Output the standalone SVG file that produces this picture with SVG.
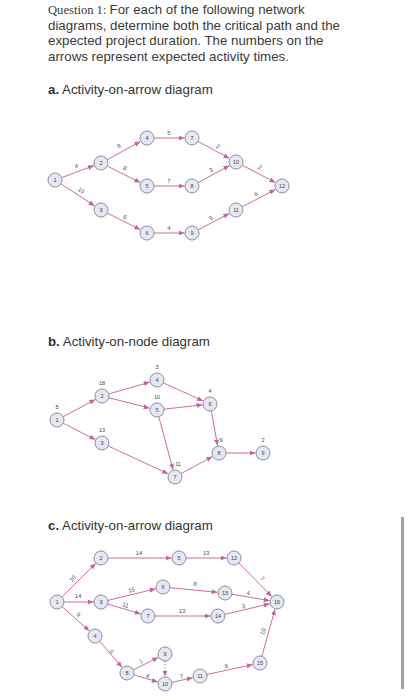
<svg xmlns="http://www.w3.org/2000/svg" width="408" height="700" viewBox="0 0 408 700">
<defs>
<marker id="ah" markerUnits="userSpaceOnUse" markerWidth="6" markerHeight="5" refX="6" refY="2.5" orient="auto"><path d="M0,0 L6,2.5 L0,5 z" fill="#cc5f95"/></marker>
<style>
.t{font-family:"Liberation Sans",Arial,sans-serif;font-size:13.3px;fill:#3a3a3a}
.q{font-family:"Liberation Serif","Times New Roman",serif;font-size:12.6px;fill:#3a3a3a}
.h{font-family:"Liberation Sans",Arial,sans-serif;font-size:13.3px;fill:#333}
.n circle{fill:#e5e7f3;stroke:#8b8fa6;stroke-width:1}
.n text{font-family:"Liberation Sans",Arial,sans-serif;font-size:5.5px;fill:#444;text-anchor:middle}
.e line{stroke:#cc6f9c;stroke-width:1;marker-end:url(#ah)}
.e line.d{stroke-dasharray:1.5,1.5}
.l{font-family:"Liberation Sans",Arial,sans-serif;font-size:6px;fill:#555;text-anchor:middle}
.w{font-family:"Liberation Sans",Arial,sans-serif;font-size:6px;fill:#555;text-anchor:middle}
</style>
</defs>
<rect width="408" height="700" fill="#fff"/>
<g id="header">
<text x="48" y="14"><tspan class="q">Question 1: </tspan><tspan class="t">For each of the following network</tspan></text>
<text class="t" x="48" y="29.5">diagrams, determine both the critical path and the</text>
<text class="t" x="48" y="45">expected project duration. The numbers on the</text>
<text class="t" x="48" y="60.5">arrows represent expected activity times.</text>
<text class="h" x="48" y="94"><tspan font-weight="bold">a.</tspan> Activity-on-arrow diagram</text>
<text class="h" x="48" y="346"><tspan font-weight="bold">b.</tspan> Activity-on-node diagram</text>
<text class="h" x="48" y="530"><tspan font-weight="bold">c.</tspan> Activity-on-arrow diagram</text>
</g>
<rect x="401" y="517" width="3" height="172" fill="#a0a0a0"/>

<!-- Diagram a connectors -->
<g id="edges-a" class="e">
<line x1="61.6" y1="177.6" x2="94" y2="165.6"/>
<line x1="60.9" y1="183.8" x2="94.7" y2="205.9"/>
<line x1="107.1" y1="159.7" x2="140.4" y2="141.6"/>
<line x1="107.3" y1="166.1" x2="140.3" y2="182.6"/>
<line x1="107.3" y1="213.1" x2="140.3" y2="229.6"/>
<line x1="154" y1="138" x2="184.5" y2="138"/>
<line x1="154" y1="186" x2="184.5" y2="186"/>
<line x1="154" y1="233" x2="184.5" y2="233"/>
<line x1="198.1" y1="141.4" x2="229.4" y2="158.4"/>
<line x1="198.1" y1="182.6" x2="229.4" y2="165.6"/>
<line x1="198.2" y1="229.8" x2="229.3" y2="213.5"/>
<line x1="242.2" y1="165.2" x2="275.4" y2="182.5"/>
<line x1="242.2" y1="206.8" x2="275.4" y2="189.5"/>
</g>
<g id="labels-a">
<text class="l" transform="translate(77,168) rotate(-20)">4</text>
<text class="l" transform="translate(80,192) rotate(33)">10</text>
<text class="l" transform="translate(120,148) rotate(-28)">9</text>
<text class="l" transform="translate(124,170) rotate(27)">8</text>
<text class="l" transform="translate(124,219) rotate(27)">6</text>
<text class="l" x="169" y="135">5</text>
<text class="l" x="169" y="183">7</text>
<text class="l" x="169" y="230">4</text>
<text class="l" transform="translate(217,148) rotate(29)">2</text>
<text class="l" transform="translate(212,172) rotate(-29)">3</text>
<text class="l" transform="translate(212,220) rotate(-28)">5</text>
<text class="l" transform="translate(259,169) rotate(28)">2</text>
<text class="l" transform="translate(257,196) rotate(-28)">6</text>
</g>
<g id="a1" class="n"><circle cx="55" cy="180" r="7"/><text x="55" y="182">1</text></g>
<g id="a2" class="n"><circle cx="101" cy="163" r="7"/><text x="101" y="165">2</text></g>
<g id="a3" class="n"><circle cx="101" cy="210" r="7"/><text x="101" y="212">3</text></g>
<g id="a4" class="n"><circle cx="147" cy="138" r="7"/><text x="147" y="140">4</text></g>
<g id="a5" class="n"><circle cx="147" cy="186" r="7"/><text x="147" y="188">5</text></g>
<g id="a6" class="n"><circle cx="147" cy="233" r="7"/><text x="147" y="235">6</text></g>
<g id="a7" class="n"><circle cx="192" cy="138" r="7"/><text x="192" y="140">7</text></g>
<g id="a8" class="n"><circle cx="192" cy="186" r="7"/><text x="192" y="188">8</text></g>
<g id="a9" class="n"><circle cx="192" cy="233" r="7"/><text x="192" y="235">9</text></g>
<g id="a10" class="n"><circle cx="236" cy="162" r="7"/><text x="236" y="164">10</text></g>
<g id="a11" class="n"><circle cx="236" cy="210" r="7"/><text x="236" y="212">11</text></g>
<g id="a12" class="n"><circle cx="282" cy="186" r="7"/><text x="282" y="188">12</text></g>

<!-- Diagram b -->
<g id="edges-b" class="e">
<line x1="63.2" y1="416.7" x2="95.4" y2="399.5"/>
<line x1="63.2" y1="423.2" x2="95.3" y2="439.6"/>
<line x1="108.7" y1="394" x2="149.8" y2="382.1"/>
<line x1="108.8" y1="397.7" x2="149.7" y2="408.2"/>
<line x1="163.4" y1="382.9" x2="203.2" y2="400.9"/>
<line x1="164" y1="409.2" x2="202.5" y2="404.8"/>
<line x1="158.8" y1="416.8" x2="173.1" y2="469.8"/>
<line x1="108.3" y1="446" x2="168.2" y2="473.8"/>
<line x1="211.3" y1="410.9" x2="217.6" y2="445.6"/>
<line x1="181.1" y1="473.6" x2="212.4" y2="456.6"/>
<line x1="226" y1="453" x2="255.5" y2="453"/>
</g>
<g id="b1" class="n"><text class="w" x="57" y="409">5</text><circle cx="57" cy="420" r="7"/><text x="57" y="422">1</text></g>
<g id="b2" class="n"><text class="w" x="102" y="385">18</text><circle cx="102" cy="396" r="7"/><text x="102" y="398">2</text></g>
<g id="b3" class="n"><text class="w" x="102" y="432">13</text><circle cx="102" cy="443" r="7"/><text x="102" y="445">3</text></g>
<g id="b4" class="n"><text class="w" x="157" y="369">3</text><circle cx="157" cy="380" r="7"/><text x="157" y="382">4</text></g>
<g id="b5" class="n"><text class="w" x="157" y="399">10</text><circle cx="157" cy="410" r="7"/><text x="157" y="412">5</text></g>
<g id="b6" class="n"><text class="w" x="210" y="393">4</text><circle cx="210" cy="404" r="7"/><text x="210" y="406">6</text></g>
<g id="b7" class="n"><text class="w" x="178" y="466">11</text><circle cx="175" cy="477" r="7"/><text x="175" y="479">7</text></g>
<g id="b8" class="n"><text class="w" x="221" y="442">9</text><circle cx="219" cy="453" r="7"/><text x="219" y="455">8</text></g>
<g id="b9" class="n"><text class="w" x="263" y="442">2</text><circle cx="263" cy="453" r="7"/><text x="263" y="455">9</text></g>

<!-- Diagram c -->
<g id="edges-c" class="e">
<line x1="62" y1="597" x2="95.7" y2="563.3"/>
<line x1="64" y1="602" x2="93.5" y2="602"/>
<line x1="62.2" y1="606.7" x2="89.4" y2="631"/>
<line x1="108" y1="558" x2="171.5" y2="558"/>
<line x1="107.8" y1="600.4" x2="155.7" y2="588.8"/>
<line x1="107.7" y1="604" x2="140.8" y2="613.9"/>
<line x1="99.6" y1="641.3" x2="122.1" y2="667.3"/>
<line x1="186" y1="558" x2="226.5" y2="558"/>
<line x1="170" y1="587.7" x2="217.5" y2="592.3"/>
<line x1="155" y1="616" x2="210.5" y2="616"/>
<line x1="133.3" y1="669.9" x2="158.3" y2="657.4"/>
<line x1="133.7" y1="674.9" x2="157.8" y2="681.9"/>
<line class="d" x1="165" y1="661" x2="165" y2="676.5"/>
<line x1="171.8" y1="682.4" x2="192.7" y2="677.7"/>
<line x1="206.8" y1="674.5" x2="252.7" y2="664.6"/>
<line x1="238.9" y1="563" x2="271.8" y2="596.6"/>
<line x1="231.9" y1="594.2" x2="269.6" y2="600.7"/>
<line x1="224.8" y1="614.4" x2="269.7" y2="603.7"/>
<line x1="261.9" y1="656.3" x2="275" y2="609.2"/>
</g>
<g id="labels-c">
<text class="l" transform="translate(74,580) rotate(-45)">10</text>
<text class="l" x="78" y="598">14</text>
<text class="l" transform="translate(77,616) rotate(42)">9</text>
<text class="l" x="139" y="555">14</text>
<text class="l" transform="translate(132,592) rotate(-14)">15</text>
<text class="l" transform="translate(125,607) rotate(17)">11</text>
<text class="l" x="206" y="555">13</text>
<text class="l" transform="translate(195,586) rotate(5)">8</text>
<text class="l" x="182" y="613">13</text>
<text class="l" transform="translate(261,580) rotate(45)">7</text>
<text class="l" transform="translate(248,595) rotate(10)">4</text>
<text class="l" transform="translate(244,608) rotate(-13)">3</text>
<text class="l" transform="translate(110,653) rotate(49)">6</text>
<text class="l" transform="translate(142,663) rotate(-27)">1</text>
<text class="l" transform="translate(147,678) rotate(16)">4</text>
<text class="l" transform="translate(182,678) rotate(-13)">7</text>
<text class="l" transform="translate(227,668) rotate(-12)">6</text>
<text class="l" transform="translate(265,632) rotate(-74)">10</text>
</g>
<g id="c1" class="n"><circle cx="57" cy="602" r="7"/><text x="57" y="604">1</text></g>
<g id="c2" class="n"><circle cx="101" cy="558" r="7"/><text x="101" y="560">2</text></g>
<g id="c3" class="n"><circle cx="101" cy="602" r="7"/><text x="101" y="604">3</text></g>
<g id="c4" class="n"><circle cx="95" cy="636" r="7"/><text x="95" y="638">4</text></g>
<g id="c5" class="n"><circle cx="179" cy="558" r="7"/><text x="179" y="560">5</text></g>
<g id="c6" class="n"><circle cx="163" cy="587" r="7"/><text x="163" y="589">6</text></g>
<g id="c7" class="n"><circle cx="148" cy="616" r="7"/><text x="148" y="618">7</text></g>
<g id="c8" class="n"><circle cx="127" cy="673" r="7"/><text x="127" y="675">8</text></g>
<g id="c9" class="n"><circle cx="165" cy="654" r="7"/><text x="165" y="656">9</text></g>
<g id="c10" class="n"><circle cx="165" cy="684" r="7"/><text x="165" y="686">10</text></g>
<g id="c11" class="n"><circle cx="200" cy="676" r="7"/><text x="200" y="678">11</text></g>
<g id="c12" class="n"><circle cx="234" cy="558" r="7"/><text x="234" y="560">12</text></g>
<g id="c13" class="n"><circle cx="225" cy="593" r="7"/><text x="225" y="595">13</text></g>
<g id="c14" class="n"><circle cx="218" cy="616" r="7"/><text x="218" y="618">14</text></g>
<g id="c15" class="n"><circle cx="260" cy="663" r="7"/><text x="260" y="665">15</text></g>
<g id="c16" class="n"><circle cx="277" cy="602" r="7"/><text x="277" y="604">16</text></g>
</svg>
